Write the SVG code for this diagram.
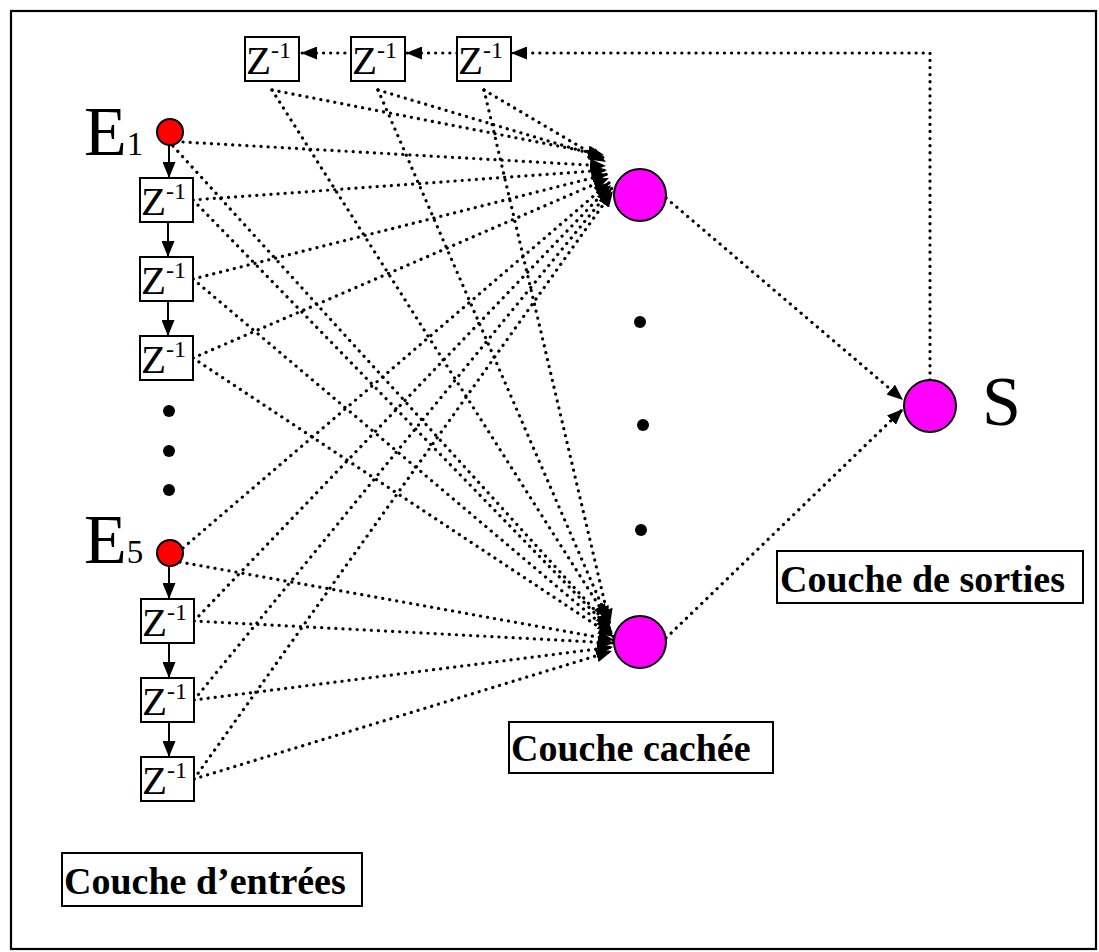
<svg xmlns="http://www.w3.org/2000/svg" width="1099" height="952" viewBox="0 0 1099 952">
<style>
.frame{fill:none;stroke:#000;stroke-width:2.2}
.box{fill:#fff;stroke:#000;stroke-width:2}
.z{font-family:"Liberation Serif",serif;font-size:41px;fill:#000}
.sup{font-size:24px}
.big{font-family:"Liberation Serif",serif;font-size:70px;fill:#000}
.sub{font-size:33px}
.lbl{font-family:"Liberation Serif",serif;font-size:38px;font-weight:bold;fill:#000}
.inp{fill:#ff0000;stroke:#000;stroke-width:2}
.neu{fill:#ff00ff;stroke:#000;stroke-width:2}
.dot{fill:#000}
.dl{fill:none;stroke:#000;stroke-width:3.2;stroke-linecap:round;stroke-dasharray:0.1 7}
.sl{fill:none;stroke:#000;stroke-width:2}
</style>
<defs>
<marker id="ah" markerUnits="userSpaceOnUse" markerWidth="17" markerHeight="13" refX="16" refY="6.5" orient="auto">
<path d="M0,0 L16,6.5 L0,13 z" fill="#000"/>
</marker>
</defs>
<rect class="frame" x="11" y="11" width="1085" height="938"/>

<g id="connectors">
<path class="dl" marker-end="url(#ah)" d="M183,142 L606,166"/>
<path class="dl" marker-end="url(#ah)" d="M193,200 L607,170"/>
<path class="dl" marker-end="url(#ah)" d="M193,279 L608,174"/>
<path class="dl" marker-end="url(#ah)" d="M193,358 L609,178"/>
<path class="dl" marker-end="url(#ah)" d="M183,548 L610,182"/>
<path class="dl" marker-end="url(#ah)" d="M194,621 L611,185"/>
<path class="dl" marker-end="url(#ah)" d="M194,700 L612,188"/>
<path class="dl" marker-end="url(#ah)" d="M194,779 L613,191"/>
<path class="dl" marker-end="url(#ah)" d="M272,90 L604,155"/>
<path class="dl" marker-end="url(#ah)" d="M378,90 L605,158"/>
<path class="dl" marker-end="url(#ah)" d="M484,90 L606,162"/>
<path class="dl" marker-end="url(#ah)" d="M173,146 L611,628"/>
<path class="dl" marker-end="url(#ah)" d="M193,200 L612,631"/>
<path class="dl" marker-end="url(#ah)" d="M193,279 L613,634"/>
<path class="dl" marker-end="url(#ah)" d="M193,358 L614,637"/>
<path class="dl" marker-end="url(#ah)" d="M180,562 L614,640"/>
<path class="dl" marker-end="url(#ah)" d="M194,621 L614,643"/>
<path class="dl" marker-end="url(#ah)" d="M194,700 L613,647"/>
<path class="dl" marker-end="url(#ah)" d="M194,779 L612,651"/>
<path class="dl" marker-end="url(#ah)" d="M272,90 L608,620"/>
<path class="dl" marker-end="url(#ah)" d="M378,90 L609,622"/>
<path class="dl" marker-end="url(#ah)" d="M484,90 L610,625"/>
<path class="dl" marker-end="url(#ah)" d="M666,198 L903,400"/>
<path class="dl" marker-end="url(#ah)" d="M666,638 L903,409"/>
<path class="dl" marker-end="url(#ah)" d="M930,380 L930,53 L511,53"/>
<path class="dl" marker-end="url(#ah)" d="M457,53 L406,53"/>
<path class="dl" marker-end="url(#ah)" d="M352,53 L301,53"/>
<path class="sl" marker-end="url(#ah)" d="M169,145 L169,178"/>
<path class="sl" marker-end="url(#ah)" d="M168,222 L168,257"/>
<path class="sl" marker-end="url(#ah)" d="M168,301 L168,336"/>
<path class="sl" marker-end="url(#ah)" d="M169,566 L169,599"/>
<path class="sl" marker-end="url(#ah)" d="M169,643 L169,678"/>
<path class="sl" marker-end="url(#ah)" d="M169,722 L169,757"/>
</g>

<g id="top-z1"><rect class="box" x="245" y="37" width="54" height="44"/><text class="z" x="246" y="74">Z<tspan class="sup" dy="-16">-1</tspan></text></g>
<g id="top-z2"><rect class="box" x="351" y="37" width="54" height="44"/><text class="z" x="352" y="74">Z<tspan class="sup" dy="-16">-1</tspan></text></g>
<g id="top-z3"><rect class="box" x="457" y="37" width="54" height="44"/><text class="z" x="458" y="74">Z<tspan class="sup" dy="-16">-1</tspan></text></g>

<g id="E1"><circle class="inp" cx="170" cy="132" r="13"/><text class="big" x="84" y="155">E<tspan class="sub">1</tspan></text></g>
<g id="z-e1-1"><rect class="box" x="140" y="178" width="53" height="44"/><text class="z" x="141" y="215">Z<tspan class="sup" dy="-16">-1</tspan></text></g>
<g id="z-e1-2"><rect class="box" x="140" y="257" width="53" height="44"/><text class="z" x="141" y="294">Z<tspan class="sup" dy="-16">-1</tspan></text></g>
<g id="z-e1-3"><rect class="box" x="140" y="336" width="53" height="44"/><text class="z" x="141" y="373">Z<tspan class="sup" dy="-16">-1</tspan></text></g>

<g id="input-dots"><circle class="dot" cx="169" cy="411" r="6"/><circle class="dot" cx="169" cy="451" r="6"/><circle class="dot" cx="169" cy="490" r="6"/></g>

<g id="E5"><circle class="inp" cx="170" cy="553" r="13"/><text class="big" x="84" y="563">E<tspan class="sub">5</tspan></text></g>
<g id="z-e5-1"><rect class="box" x="141" y="599" width="53" height="44"/><text class="z" x="142" y="636">Z<tspan class="sup" dy="-16">-1</tspan></text></g>
<g id="z-e5-2"><rect class="box" x="141" y="678" width="53" height="44"/><text class="z" x="142" y="715">Z<tspan class="sup" dy="-16">-1</tspan></text></g>
<g id="z-e5-3"><rect class="box" x="141" y="757" width="53" height="44"/><text class="z" x="142" y="794">Z<tspan class="sup" dy="-16">-1</tspan></text></g>

<g id="hidden-1"><circle class="neu" cx="640" cy="195" r="26"/></g>
<g id="hidden-dots"><circle class="dot" cx="640" cy="322" r="6"/><circle class="dot" cx="643" cy="425" r="6"/><circle class="dot" cx="641" cy="530" r="6"/></g>
<g id="hidden-n"><circle class="neu" cx="640" cy="642" r="26"/></g>

<g id="S"><circle class="neu" cx="930" cy="406" r="26"/><text class="big" x="982" y="425">S</text></g>

<g id="lbl-sorties"><rect class="box" x="777" y="551" width="306" height="52"/><text class="lbl" x="780" y="592">Couche de sorties</text></g>
<g id="lbl-cachee"><rect class="box" x="509" y="722" width="264" height="51"/><text class="lbl" x="511" y="761">Couche cachée</text></g>
<g id="lbl-entrees"><rect class="box" x="62" y="853" width="300" height="53"/><text class="lbl" x="64" y="894">Couche d’entrées</text></g>
</svg>
